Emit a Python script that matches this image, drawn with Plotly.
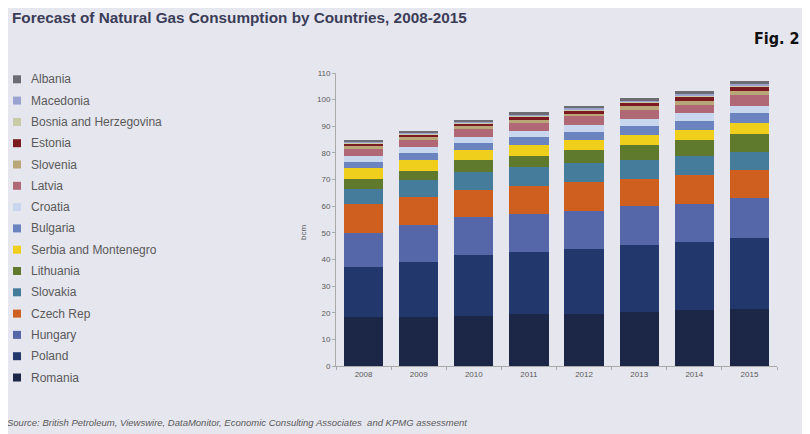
import plotly.graph_objects as go

years = ["2008", "2009", "2010", "2011", "2012", "2013", "2014", "2015"]

# stacking order bottom -> top
countries = ["Romania", "Poland", "Hungary", "Czech Rep", "Slovakia", "Lithuania",
             "Serbia and Montenegro", "Bulgaria", "Croatia", "Latvia", "Slovenia",
             "Estonia", "Bosnia and Herzegovina", "Macedonia", "Albania"]

romania   = [18.3, 18.3, 18.8, 19.4, 19.7, 20.2, 21.1, 21.3]
poland    = [18.7, 20.9, 22.9, 23.3, 24.2, 25.3, 25.6, 26.7]
hungary   = [13.1, 13.8, 14.2, 14.4, 14.4, 14.4, 14.2, 14.9]
czech     = [10.7, 10.3, 10.3, 10.6, 10.6, 10.4, 10.9, 10.5]
slovakia  = [5.6, 6.4, 6.8, 6.9, 7.3, 7.1, 7.1, 7.1]
lithuania = [3.9, 3.6, 4.4, 4.4, 5.0, 5.7, 5.8, 6.7]
serbia    = [4.0, 3.9, 3.8, 4.1, 3.8, 3.7, 4.0, 4.0]
bulgaria  = [2.3, 2.8, 2.5, 2.8, 3.0, 3.2, 3.2, 3.8]
croatia   = [2.1, 2.2, 2.3, 2.2, 2.5, 2.9, 3.1, 2.7]
latvia    = [2.8, 2.8, 3.0, 3.1, 3.2, 3.3, 3.1, 3.9]
slovenia  = [1.2, 1.0, 1.0, 1.3, 1.0, 1.3, 1.3, 1.8]
estonia   = [0.7, 0.9, 1.1, 1.1, 1.2, 1.3, 1.6, 1.4]
bosnia    = [0.4, 0.3, 0.4, 0.4, 0.4, 0.4, 0.6, 0.5]
macedonia = [0.3, 0.3, 0.3, 0.4, 0.4, 0.4, 0.4, 0.4]
albania   = [0.5, 0.5, 0.6, 0.8, 0.9, 0.9, 1.2, 1.2]

series = [romania, poland, hungary, czech, slovakia, lithuania, serbia, bulgaria,
          croatia, latvia, slovenia, estonia, bosnia, macedonia, albania]

colors = ["#1c2748", "#22386c", "#5567a8", "#cf5f1f", "#457c9c", "#5f7a2c",
          "#efcf1c", "#6b84c0", "#c8d6ee", "#b06877", "#b9a77a",
          "#7c1a22", "#c9cba8", "#9aa3cf", "#6c6c72"]

y_ticks = list(range(0, 111, 10))

# figure sits at page offset (8, 8) because of the default body margin
OFF = 8
W, H = 810, 434
L = 336 - OFF
T = 73 - OFF
R = W - (777 - OFF)
B = H - (366 - OFF)
PW, PH = W - L - R, H - T - B


def px_x(page_px):
    return (page_px - OFF - L) / PW


def px_y(page_py):
    return (H - B - (page_py - OFF)) / PH


fig = go.Figure()
for name, vals, col in zip(countries, series, colors):
    fig.add_trace(go.Bar(x=years, y=vals, name=name, marker_color=col,
                         marker_line_width=0))

bg = "#e6e6ef"
fig.update_layout(
    width=W, height=H,
    barmode="stack", bargap=0.29,
    paper_bgcolor=bg, plot_bgcolor=bg,
    margin=dict(l=L, r=R, t=T, b=B, autoexpand=False),
    font=dict(family="Liberation Sans, Arial, sans-serif", color="#5a5a5a"),
    showlegend=False,
)
fig.update_xaxes(showgrid=False, showline=True, linecolor="#aaa", linewidth=1,
                 ticks="outside", tickson="boundaries", ticklen=3, tickcolor="#aaa",
                 tickfont=dict(size=8, color="#5a5a5a"), range=[-0.5, 7.5])
fig.update_yaxes(showgrid=False, showline=True, linecolor="#aaa", linewidth=1,
                 ticks="outside", ticklen=3, tickcolor="#aaa", tickvals=y_ticks,
                 tickfont=dict(size=8, color="#5a5a5a"), range=[0, 110],
                 zeroline=False)

fig.add_annotation(text="bcm", xref="paper", yref="paper", x=px_x(303), y=px_y(233),
                   xanchor="center", yanchor="middle", textangle=-90, showarrow=False,
                   font=dict(size=8, color="#5a5a5a"))

# legend (top -> bottom is reverse of stacking order)
leg_top, leg_step = 79.3, 21.3
for i, (name, col) in enumerate(zip(countries[::-1], colors[::-1])):
    cy = leg_top + i * leg_step
    fig.add_shape(type="rect", xref="paper", yref="paper",
                  x0=px_x(13), x1=px_x(21), y0=px_y(cy + 4), y1=px_y(cy - 4),
                  fillcolor=col, line_width=0)
    fig.add_annotation(text=name, xref="paper", yref="paper",
                       x=px_x(29), y=px_y(cy), xanchor="left", yanchor="middle",
                       showarrow=False, font=dict(size=12, color="#5a5a5a"))

fig.add_annotation(text="<b>Forecast of Natural Gas Consumption by Countries, 2008-2015</b>",
                   xref="paper", yref="paper", x=px_x(10), y=px_y(17),
                   xanchor="left", yanchor="middle", showarrow=False,
                   font=dict(size=15.3, color="#3b3d58"))
fig.add_annotation(text="<b>Fig. 2</b>", xref="paper", yref="paper",
                   x=px_x(802), y=px_y(38), xanchor="right", yanchor="middle", showarrow=False,
                   font=dict(size=16, color="#111",
                             family="DejaVu Sans Condensed, Liberation Sans Narrow, Liberation Sans, sans-serif"))
fig.add_annotation(text="<i>Source: British Petroleum, Viewswire, DataMonitor, Economic Consulting Associates  and KPMG assessment</i>",
                   xref="paper", yref="paper", x=px_x(5), y=px_y(422), xanchor="left", yanchor="middle",
                   showarrow=False, font=dict(size=9.5, color="#5a5a5a"))

fig.write_html("out.html")
